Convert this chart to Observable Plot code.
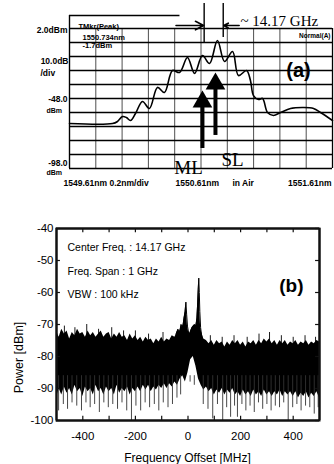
<!DOCTYPE html>
<html><head><meta charset="utf-8">
<script src="https://cdn.jsdelivr.net/npm/d3@7"></script>
<script src="https://cdn.jsdelivr.net/npm/@observablehq/plot@0.6"></script>
<style>
html,body{margin:0;padding:0;background:#fff;}
#wrap{position:relative;width:334px;height:464px;overflow:hidden;background:#fff;}
#a{position:absolute;left:0;top:0;}
#b{position:absolute;left:0;top:200px;}
#c{position:absolute;left:0;top:200px;}
</style></head>
<body><div id="wrap"><div id="a"></div><div id="b"></div><div id="c"></div></div>
<script>
// ---------- Panel (a): optical spectrum (OSA trace) ----------
const wavelengthNm = [1549.61, 1549.937, 1549.975, 1550.013, 1550.043, 1550.074, 1550.112, 1550.165, 1550.218, 1550.279,
  1550.332, 1550.393, 1550.447, 1550.507, 1550.561, 1550.621, 1550.675, 1550.735, 1550.789, 1550.850,
  1550.895, 1550.956, 1550.986, 1551.009, 1551.047, 1551.078, 1551.116, 1551.161, 1551.215, 1551.291,
  1551.389, 1551.466, 1551.519, 1551.61];
const powerDbm = [-65.9, -65.9, -64.4, -60.9, -61.6, -63.7, -58.7, -50.1, -55.1, -40.1,
  -43.7, -28.0, -29.4, -18.7, -30.1, -17.3, -23.0, -6.6, -21.6, -14.4,
  -31.6, -28.0, -35.1, -45.9, -48.7, -48.0, -58.0, -60.1, -58.0, -55.1,
  -54.4, -55.1, -58.0, -63.7];
const gridNm = [1549.61, 1549.81, 1550.01, 1550.21, 1550.41, 1550.61, 1550.81, 1551.01, 1551.21, 1551.41, 1551.61];
const gridDbm = [2, -8, -18, -28, -38, -48, -58, -68, -78, -88, -98];
const modeNm = {ML: 1550.621, SL: 1550.72};

// ---------- Panel (b): RF beat spectrum ----------
const offsetMHz = d3.range(-500, 510, 10);
const noiseHiDbm = [
  -72, -74, -71.5, -73, -72, -74.5, -72.5, -73.5, -71.5, -73,
  -72.5, -74, -72, -73.5, -72.5, -74, -73, -72, -74, -73,
  -72.5, -74.5, -73, -74, -72.5, -74, -73.5, -75, -73, -74.5,
  -73.5, -75, -74, -75.5, -74, -75, -74.5, -76, -74.5, -75.5,
  -74, -75.5, -74.5, -75, -73.5, -74, -72.5, -72, -70.5, -69,
  -72, -73, -71.5, -70.5, -68, -72, -74.5, -75, -76, -75,
  -76.5, -75, -76, -75.5, -77, -75.5, -76.5, -75, -76, -75,
  -76.5, -75.5, -77, -75.5, -76, -75, -76.5, -75, -76, -74.5,
  -75.5, -74.5, -76, -75, -76.5, -75, -76, -75, -76.5, -75.5,
  -76, -75, -76.5, -75.5, -76, -75, -76.5, -75.5, -76, -75,
  -75.5];
const noiseLoDbm = [
  -93, -90, -92, -89.5, -91.5, -90, -92, -89, -91, -90,
  -92.5, -89.5, -91, -90, -92, -89, -91, -90, -92, -89.5,
  -91, -90, -92, -89, -91.5, -90, -91, -89.5, -92, -90,
  -91, -89.5, -91, -89, -90.5, -89, -91, -89.5, -90.5, -89,
  -90, -88.5, -90, -88.5, -89.5, -88, -89, -87, -86, -88,
  -85, -81, -80, -83, -87, -89, -90.5, -89.5, -91, -90,
  -92, -90.5, -91.5, -90, -92, -90.5, -91.5, -90, -92, -91,
  -92.5, -90.5, -92, -91, -92.5, -90.5, -92, -91, -92.5, -90.5,
  -92, -91, -92.5, -91, -92, -90.5, -92.5, -91, -92, -91,
  -92.5, -91, -93, -91.5, -92.5, -91, -93, -91.5, -92.5, -91,
  -93];
const peakMHz = [-45, -38, -32, -26, -20, -15, -11, -8, -5, -2, 2, 6, 10, 15, 20, 25, 30, 34, 37, 39, 41, 43, 45, 48, 52, 56];
const peakDbm = [-73, -71.5, -72.5, -70, -71, -68, -66, -63, -67, -70.5, -72.5, -73, -72, -71, -70.5, -70, -70.5, -68, -63, -59, -55.5, -60, -66, -71, -73.5, -75];
const upMHz = [-470, -430, -385, -340, -290, -245, -200, -150, -95, 85, 130, 175, 225, 270, 310, 355, 400, 445, 485];
const upDbm = [-70.5, -71, -70, -71.5, -71, -72, -72, -73, -72.5, -73.5, -74, -73.5, -74, -73, -72.5, -73.5, -74, -73.5, -74];
const downMHz = [-492, -474, -458, -441, -423, -405, -388, -372, -355, -337, -320, -303, -286, -268, -251, -233, -215, -198, -180, -163,
  -146, -128, -111, -94, -76, -59, -42, -28, 8, 16, 24, 58, 76, 94, 112, 132, 147, 162, 177, 188,
  205, 220, 236, 252, 268, 284, 300, 316, 332, 348, 364, 381, 398, 414, 430, 447, 463, 480, 495];
const downDbm = [-97, -95, -96.5, -94.5, -95.5, -97, -94.5, -96, -95, -97.5, -94.5, -96, -95, -96.5, -94.5, -97, -100, -95.5, -97, -94.5,
  -96, -95, -97, -94.5, -96, -95, -93, -92, -88, -86, -89, -95, -96.5, -99.5, -95, -100, -96, -99, -95.5, -99,
  -95, -97, -95.5, -97.5, -94.5, -96.5, -95, -97, -95.5, -96, -94.5, -100, -96, -95, -97, -95.5, -96, -98, -96];
const xTicks = [-400, -200, 0, 200, 400];
const yTicks = [-100, -90, -80, -70, -60, -50, -40];
const minorX = [-400, -300, -200, -100, 0, 100, 200, 300, 400];
const infoLines = ["Center Freq. : 14.17 GHz", "Freq. Span : 1 GHz", "VBW : 100 kHz"];

// ---------- helpers ----------
const SANS = "Liberation Sans, Arial, Helvetica, sans-serif";
const SERIF = "Liberation Serif, Times New Roman, serif";
const INK = "#111";
function note(M, str, px, py, o = {}) {
  return Plot.text([str], {
    text: d => d, frameAnchor: "top-left",
    dx: px - M.ml, dy: py - M.top - M.mt,
    textAnchor: o.anchor || "start",
    fontSize: o.size || 8.5, fontWeight: o.weight || "bold",
    fontFamily: o.family || SANS, fill: "black",
    rotate: o.rotate || 0
  });
}

// ---------- build panel (a) ----------
const A = {w: 334, h: 190, ml: 69, mr: 2, mt: 28, mb: 22, top: 0};
const pa = Plot.plot({
  width: A.w, height: A.h,
  marginLeft: A.ml, marginRight: A.mr, marginTop: A.mt, marginBottom: A.mb,
  x: {domain: [1549.61, 1551.61], axis: null},
  y: {domain: [-98, 2], axis: null},
  style: {background: "white", overflow: "visible", fontFamily: SANS},
  marks: [
    Plot.ruleX(gridNm.slice(1, -1), {stroke: "#222", strokeWidth: 0.8}),
    Plot.ruleY(gridDbm, {stroke: "black", strokeWidth: 1.3}),
    Plot.ruleX([gridNm[0]], {y1: -98, y2: 11.3, stroke: "black", strokeWidth: 1.4}),
    Plot.ruleX([gridNm[gridNm.length - 1]], {stroke: "black", strokeWidth: 1.3}),
    Plot.ruleY([11.3], {x1: 1549.61, x2: 1550.45, stroke: "black", strokeWidth: 1.3}),
    Plot.line(powerDbm, {x: wavelengthNm, y: powerDbm, curve: "catmull-rom", stroke: "black", strokeWidth: 1.6}),
    Plot.ruleX([{x: modeNm.ML, y1: -83.7, y2: -52}, {x: modeNm.SL, y1: -74.4, y2: -39}],
      {x: "x", y1: "y1", y2: "y2", stroke: "black", strokeWidth: 4}),
    Plot.dot([{x: modeNm.ML, y: -50.4}, {x: modeNm.SL, y: -37.5}],
      {x: "x", y: "y", symbol: "triangle", r: 7.3, fill: "black", stroke: "none"}),
    Plot.ruleX([{x: 1550.634, y1: 19.9, y2: -8}, {x: 1550.779, y1: 19.9, y2: -4.4}],
      {x: "x", y1: "y1", y2: "y2", stroke: "black", strokeWidth: 1.4}),
    Plot.arrow([{x1: 1550.42, x2: 1550.63, y: 4.1}, {x1: 1550.90, x2: 1550.783, y: 4.1}],
      {x1: "x1", x2: "x2", y1: "y", y2: "y", stroke: "black", strokeWidth: 1.6, headLength: 13, headAngle: 55}),
    note(A, "~ 14.17 GHz", 240, 15, {size: 15, weight: "normal", family: SERIF}),
    note(A, "ML", 188, 160, {size: 19, weight: "normal", family: SERIF, anchor: "middle"}),
    note(A, "SL", 232, 152, {size: 19, weight: "normal", family: SERIF, anchor: "middle"}),
    note(A, "(a)", 298, 62, {size: 20, anchor: "middle"}),
    note(A, "Normal(A)", 330, 33, {size: 6.5, anchor: "end"}),
    note(A, "TMkr(Peak)", 78, 23, {size: 7.5}),
    note(A, "1550.734nm", 82, 34, {size: 7.5}),
    note(A, "-1.7dBm", 82, 42, {size: 7.5}),
    note(A, "2.0dBm", 67, 26, {anchor: "end"}),
    note(A, "10.0dB", 68, 57, {anchor: "end"}),
    note(A, "/div", 40, 69),
    note(A, "-48.0", 67, 95, {anchor: "end"}),
    note(A, "dBm", 46, 108, {size: 7}),
    note(A, "-98.0", 67, 159, {anchor: "end"}),
    note(A, "dBm", 46, 170, {size: 7}),
    note(A, "1549.61nm", 63, 179),
    note(A, "0.2nm/div", 109, 179),
    note(A, "1550.61nm", 175, 179),
    note(A, "in Air", 232, 179),
    note(A, "1551.61nm", 331, 179, {anchor: "end"})
  ]
});
document.getElementById("a").appendChild(pa);

// ---------- build panel (b): data layer ----------
const B = {w: 334, h: 264, ml: 56, mr: 15, mt: 28, mb: 44, top: 200};
const common = {
  width: B.w, height: B.h,
  marginLeft: B.ml, marginRight: B.mr, marginTop: B.mt, marginBottom: B.mb,
  x: {domain: [-500, 500], axis: null},
  y: {domain: [-100, -40], axis: null}
};
const pb = Plot.plot({
  ...common,
  style: {background: "white", overflow: "visible", fontFamily: SANS},
  marks: [
    Plot.areaY(offsetMHz, {x: offsetMHz, y1: noiseLoDbm, y2: noiseHiDbm, fill: "black"}),
    Plot.areaY(peakMHz, {x: peakMHz, y1: () => -80, y2: peakDbm, fill: "black"}),
    Plot.line(peakMHz, {x: peakMHz, y: peakDbm, stroke: "black", strokeWidth: 1}),
    Plot.ruleX(upMHz, {x: upMHz, y1: () => -78, y2: upDbm, stroke: "black", strokeWidth: 0.9}),
    Plot.ruleX(downMHz, {x: downMHz, y1: () => -86, y2: downDbm, stroke: "#333", strokeWidth: 0.9})
  ]
});
document.getElementById("b").appendChild(pb);

// ---------- panel (b): frame, ticks, axes and labels layer ----------
const pc = Plot.plot({
  ...common,
  style: {background: "transparent", overflow: "visible", fontFamily: SANS},
  marks: [
    Plot.frame({stroke: INK, strokeWidth: 2}),
    Plot.ruleY([-100, -40], {stroke: INK, strokeWidth: 2}),
    Plot.ruleX([-500, 500], {stroke: INK, strokeWidth: 2}),
    Plot.ruleX(minorX, {x: d => d, y1: () => -100, y2: () => -98.7, stroke: INK, strokeWidth: 1.2}),
    Plot.ruleX(minorX, {x: d => d, y1: () => -40, y2: () => -41.3, stroke: INK, strokeWidth: 1.2}),
    Plot.ruleY(yTicks, {y: d => d, x1: () => -500, x2: () => -485, stroke: INK, strokeWidth: 1.2}),
    Plot.ruleY(yTicks, {y: d => d, x1: () => 500, x2: () => 485, stroke: INK, strokeWidth: 1.2}),
    Plot.axisX({ticks: xTicks, tickSize: 0, tickPadding: 11, tickFormat: d => String(d), fontSize: 11.5, label: null}),
    Plot.axisY({ticks: yTicks, tickSize: 0, tickPadding: 3, tickFormat: d => String(d), fontSize: 11.5, label: null}),
    note(B, "Frequency Offset [MHz]", 187, 453, {size: 12, weight: "normal", anchor: "middle"}),
    note(B, "Power [dBm]", 14, 357, {size: 12.5, weight: "normal", anchor: "middle", rotate: -90}),
    note(B, infoLines[0], 67, 243, {size: 10.5, weight: "normal"}),
    note(B, infoLines[1], 67, 267, {size: 10.5, weight: "normal"}),
    note(B, infoLines[2], 67, 290, {size: 10.5, weight: "normal"}),
    note(B, "(b)", 303, 278, {size: 19, anchor: "end"})
  ]
});
document.getElementById("c").appendChild(pc);
</script>
</body></html>
